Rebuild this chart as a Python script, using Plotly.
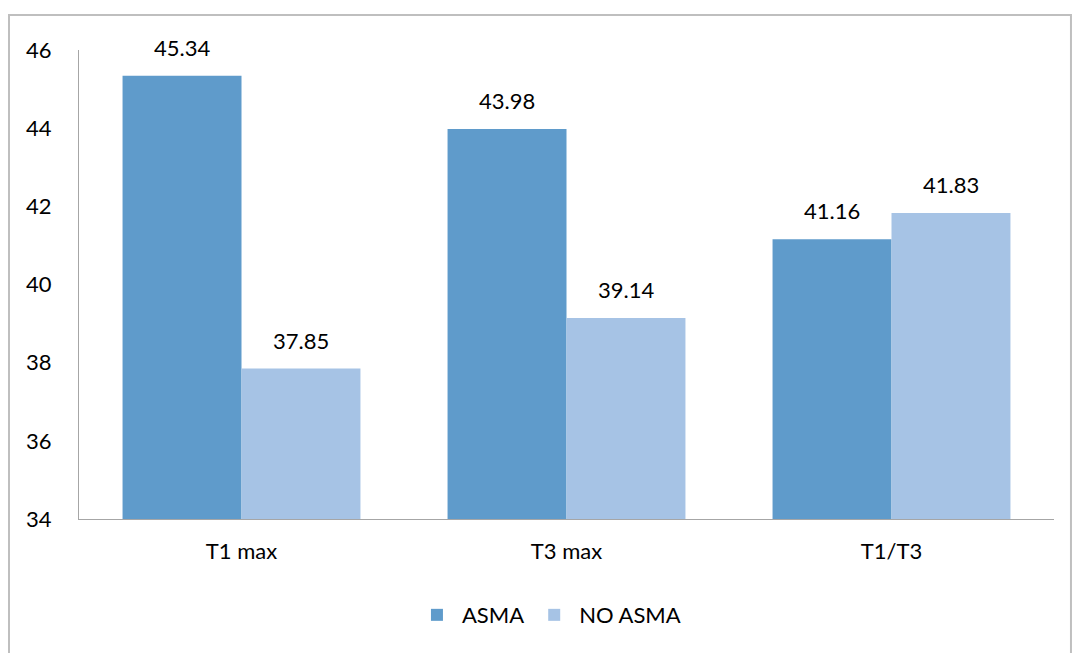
import plotly.graph_objects as go

categories = ["T1 max", "T3 max", "T1/T3"]
asma = [45.34, 43.98, 41.16]
no_asma = [37.85, 39.14, 41.83]
series_names = ["ASMA", "NO ASMA"]
y_ticks = [34, 36, 38, 40, 42, 44, 46]

FONT = "Lato, 'Open Sans', sans-serif"
c_asma = "#5F9BCB"
c_no = "#A6C3E5"

fig = go.Figure()
fig.add_trace(go.Bar(name=series_names[0], x=categories, y=asma, marker=dict(color=c_asma, line=dict(width=0))))
fig.add_trace(go.Bar(name=series_names[1], x=categories, y=no_asma, marker=dict(color=c_no, line=dict(width=0))))

# data labels
for vals, shift in ((asma, -59.5), (no_asma, 59.5)):
    for c, v in zip(categories, vals):
        fig.add_annotation(x=c, y=v, text=f"{v:.2f}", showarrow=False, xshift=shift,
                           yanchor="bottom", yshift=13, font=dict(size=22, color="#000000", family=FONT))

fig.add_shape(type="rect", xref="paper", yref="paper", x0=-0.0718, x1=1.0174, y0=-0.31, y1=1.0746,
              line=dict(color="#BFBFBF", width=2), fillcolor="rgba(0,0,0,0)", layer="below")

fig.update_layout(
    width=1073, height=653,
    margin=dict(l=79, r=19, t=50, b=134),
    paper_bgcolor="white", plot_bgcolor="white",
    barmode="group", bargap=0.268, bargroupgap=0,
    font=dict(family=FONT, size=22, color="#000000"),
    showlegend=True,
    legend=dict(orientation="h", x=0.482, xanchor="center", y=-0.16, yanchor="top",
                font=dict(size=22), itemsizing="constant", itemwidth=40),
    yaxis=dict(range=[34, 46], tickvals=y_ticks, showgrid=False, zeroline=False,
               showline=True, linecolor="#A6A6A6", linewidth=1, ticks="", ticklabelstandoff=22,
               tickfont=dict(size=22)),
    xaxis=dict(showgrid=False, showline=True, linecolor="#A6A6A6", linewidth=1, ticks="",
               ticklabelstandoff=13, tickfont=dict(size=22)),
)
fig.write_html("out.html")
